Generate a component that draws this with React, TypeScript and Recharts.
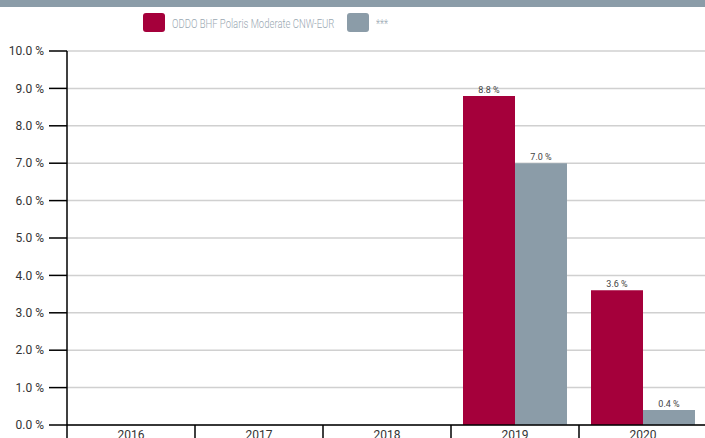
import { Bar, BarChart, CartesianGrid, LabelList, XAxis, YAxis } from 'recharts';

const YEARS = ['2016', '2017', '2018', '2019', '2020'];
const FUND = [null, null, null, 8.8, 3.6];
const BENCH = [null, null, null, 7.0, 0.4];
const Y_TICKS = [0, 1, 2, 3, 4, 5, 6, 7, 8, 9, 10];

const FUND_NAME = 'ODDO BHF Polaris Moderate CNW-EUR';
const BENCH_NAME = '***';

const RED = '#a5003b';
const GREY = '#8b9ca8';
const FONT = 'Roboto, "Noto Sans", sans-serif';

const data = YEARS.map((year, i) => ({ year, fund: FUND[i], bench: BENCH[i] }));

const pct = (v: any) => (v == null ? '' : `${Number(v).toFixed(1)} %`);

function YearTick(props: any) {
  const { x, payload, index } = props;
  const off = payload.offset ?? 64;
  const y0 = 425;
  return (
    <g>
      <line x1={x - off} x2={x - off} y1={y0} y2={y0 + 16} stroke="#000" strokeWidth={1.5} />
      {index === YEARS.length - 1 && (
        <line x1={x + off} x2={x + off} y1={y0} y2={y0 + 16} stroke="#000" strokeWidth={1.5} />
      )}
      <text x={x} y={y0 + 14} textAnchor="middle" fontSize={12} fill="#333" fontFamily={FONT}>
        {payload.value}
      </text>
    </g>
  );
}

function Swatch({ color, label, width }: { color: string; label: string; width: number }) {
  return (
    <span style={{ display: 'inline-flex', alignItems: 'center', marginRight: 8 }}>
      <span style={{ flex: 'none', width: 22, height: 19, borderRadius: 3, background: color, marginRight: 7 }} />
      <span style={{ flex: 'none', width, whiteSpace: 'nowrap', overflow: 'visible' }}>
        <span
          style={{
            display: 'inline-block',
            color: '#9aa8b2',
            fontSize: 12.5,
            fontWeight: 300,
            fontFamily: FONT,
            transform: 'scaleX(0.76)',
            transformOrigin: 'left center',
          }}
        >
          {label}
        </span>
      </span>
    </span>
  );
}

export default function App() {
  return (
    <div style={{ position: 'fixed', top: 0, left: 0, width: 705, height: 438, overflow: 'hidden', background: '#fff' }}>
      <div style={{ position: 'absolute', top: 0, left: 0, width: 705, height: 7, background: '#8b9ca8' }} />
      <div style={{ position: 'absolute', top: 13, left: 143, display: 'flex', alignItems: 'center', height: 19 }}>
        <Swatch color={RED} label={FUND_NAME} width={167} />
        <Swatch color={GREY} label={BENCH_NAME} width={20} />
      </div>
      <BarChart
        width={710}
        height={438}
        data={data}
        margin={{ top: 51, right: 3, bottom: 0, left: 0 }}
        barCategoryGap={12}
        barGap={0}
        style={{ position: 'absolute', top: 0, left: 0 }}
      >
        <CartesianGrid vertical={false} stroke="#d0d0d0" strokeWidth={1.5} />
        <XAxis
          dataKey="year"
          height={13}
          axisLine={{ stroke: '#000', strokeWidth: 1.5 }}
          tickLine={false}
          tick={<YearTick />}
          interval={0}
        />
        <YAxis
          domain={[0, 10]}
          ticks={Y_TICKS}
          width={67}
          tickSize={18}
          tickMargin={5}
          tickFormatter={pct}
          axisLine={{ stroke: '#000', strokeWidth: 1.5 }}
          tickLine={{ stroke: '#000', strokeWidth: 1.5 }}
          tick={{ fontSize: 12, fill: '#333', fontFamily: FONT }}
        />
        <Bar dataKey="fund" name={FUND_NAME} fill={RED} isAnimationActive={false}>
          <LabelList dataKey="fund" position="top" offset={3} formatter={pct} fontSize={9} fill="#444" fontFamily={FONT} />
        </Bar>
        <Bar dataKey="bench" name={BENCH_NAME} fill={GREY} isAnimationActive={false}>
          <LabelList dataKey="bench" position="top" offset={3} formatter={pct} fontSize={9} fill="#444" fontFamily={FONT} />
        </Bar>
      </BarChart>
    </div>
  );
}
